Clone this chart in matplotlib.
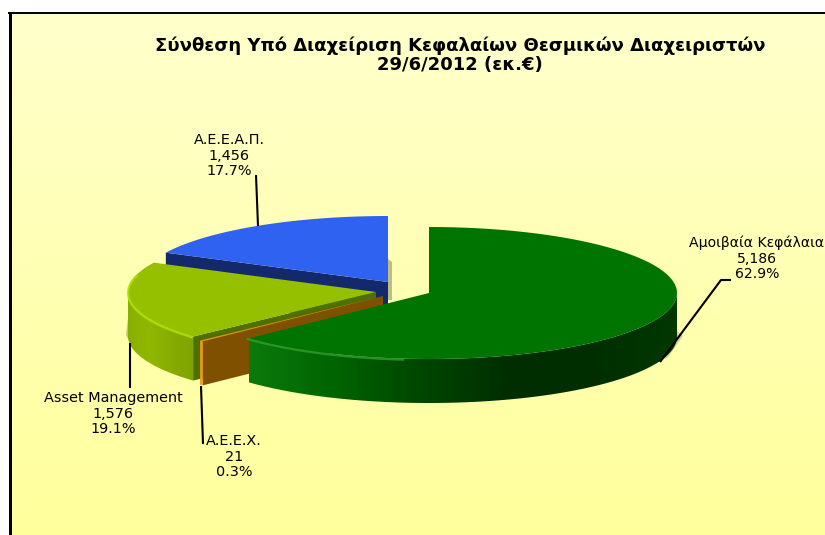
import numpy as np
import matplotlib
matplotlib.use("Agg")
import matplotlib.pyplot as plt
from matplotlib.colors import LinearSegmentedColormap as LSC
from matplotlib.patches import Polygon

title_lines = ["Σύνθεση Υπό Διαχείριση Κεφαλαίων Θεσμικών Διαχειριστών", "29/6/2012 (εκ.€)"]
categories = ["Αμοιβαία Κεφάλαια", "Α.Ε.Ε.Χ.", "Asset Management", "Α.Ε.Ε.Α.Π."]
values = [5186, 21, 1576, 1456]
value_labels = ["5,186", "21", "1,576", "1,456"]
pct_labels = ["62.9%", "0.3%", "19.1%", "17.7%"]

RX, RY, DEPTH = 248, 66, 44
centers = [(429, 293), (383, 296), (376, 292), (388, 282)]
top_colors = ["#007400", "#e8920c", "#94c000", "#2f62f0"]
cut_colors = ["#003c00", "#7f5000", "#4f6f00", "#14296c"]
rim_colors = ["#2fa02f", "#ffa820", "#b4e400", "#2f62f0"]
wall_ramps = [
    ["#0b7a0b", "#006400", "#004600", "#002e00", "#002e00", "#003800"],
    ["#f09a10", "#f09a10"],
    ["#88b000", "#90b800", "#86ac00", "#7ea400"],
    ["#14296c", "#14296c"],
]
rim_ranges = [(186, 227), None, (228, 285), None]
label_xy = [(757, 243), (234, 441), (113, 398), (229, 140)]
label_sizes = [10.1, 10.4, 10.4, 10.4]
leaders = [
    [(660, 362), (721, 280), (731, 280)],
    [(201, 386), (203, 444)],
    [(130, 343), (130, 388)],
    [(258, 226), (256, 175)],
]

fig = plt.figure(figsize=(8.25, 5.35), dpi=100, facecolor="white")
ax = fig.add_axes([0, 0, 1, 1])
ax.axis("off")

# background and frame
bg = LSC.from_list("bg", ["#ffffcc", "#ffff9c"])
ax.imshow(np.linspace(0, 1, 256)[:, None], cmap=bg, extent=(12, 825, 535, 14), aspect="auto", zorder=0)
ax.plot([9.5, 9.5], [535, 12], color="black", lw=2.16, zorder=1, solid_capstyle="butt")
ax.plot([8, 825], [13, 13], color="black", lw=1.44, zorder=1, solid_capstyle="butt")
ax.set_xlim(0, 825)
ax.set_ylim(535, 0)


def ell(c, deg):
    t = np.radians(deg)
    return np.column_stack([c[0] + RX * np.sin(t), c[1] - RY * np.cos(t)])


def gradient_fill(pts, colors, z):
    poly = Polygon(pts, closed=True, fc="none", ec="none", transform=ax.transData)
    ax.add_patch(poly)
    x0, x1 = pts[:, 0].min(), pts[:, 0].max()
    y0, y1 = pts[:, 1].min(), pts[:, 1].max()
    im = ax.imshow(np.linspace(0, 1, 256)[None, :], cmap=LSC.from_list("w", colors),
                   extent=(x0, x1, y1, y0), aspect="auto", zorder=z, interpolation="bilinear")
    im.set_clip_path(poly)


# soft shadows
for pts, alpha in [
    (np.array([(388, 259), (392, 262), (392, 300), (388, 300)]), 0.45),
    (np.array([(128, 318), (126, 335), (134, 350), (145, 356), (130, 335)]), 0.4),
    (np.array([(676, 330), (683, 336), (668, 357), (655, 364)]), 0.3),
]:
    ax.add_patch(Polygon(pts, closed=True, fc="#6b6b50", ec="none", alpha=alpha, zorder=1.5))

total = sum(values)
edges = np.concatenate([[0], np.cumsum(values)]) / total * 360
down = np.array([0, DEPTH])
order = [3, 2, 1, 0]
for n, i in enumerate(order):
    a0, a1 = edges[i], edges[i + 1]
    c = np.array(centers[i], float)
    z = 2 + n
    degs = np.linspace(a0, a1, 240)
    arc = ell(c, degs)
    # cut wall at the slice's leading radius, which faces the viewer
    if i != 0:
        cut = np.array([c, arc[0], arc[0] + down, c + down])
        ax.add_patch(Polygon(cut, closed=True, fc=cut_colors[i], ec="none", zorder=z))
    # outer wall: the part of the rim that faces the viewer (90..270 degrees)
    front = (degs > 90) & (degs < 270)
    if front.any():
        rim = arc[front]
        wall = np.vstack([rim, (rim + down)[::-1]])
        gradient_fill(wall, wall_ramps[i], z + 0.1)
    ax.add_patch(Polygon(np.vstack([c, arc]), closed=True, fc=top_colors[i], ec="none", zorder=z + 0.2))
    if rim_ranges[i] is not None:
        rr = ell(c, np.linspace(rim_ranges[i][0], rim_ranges[i][1], 120))
        ax.plot(rr[:, 0], rr[:, 1] + 1, color=rim_colors[i], lw=1.6, alpha=0.8, zorder=z + 0.3)

for i, (name, val, pct) in enumerate(zip(categories, value_labels, pct_labels)):
    x, y = label_xy[i]
    for k, s in enumerate([name, val, pct]):
        ax.text(x, y + k * 15.7, s, ha="center", va="center", fontsize=label_sizes[i], color="black",
                family="DejaVu Sans", zorder=20, clip_on=True)
    ax.plot(*zip(*leaders[i]), color="black", lw=1.5, zorder=15, solid_capstyle="butt")

ax.text(460, 46, title_lines[0], ha="center", va="center", fontsize=13, fontweight="bold",
        family="DejaVu Sans", color="black", zorder=20)
ax.text(460, 65, title_lines[1], ha="center", va="center", fontsize=13, fontweight="bold",
        family="DejaVu Sans", color="black", zorder=20)

fig.savefig("out.png", dpi=100)
